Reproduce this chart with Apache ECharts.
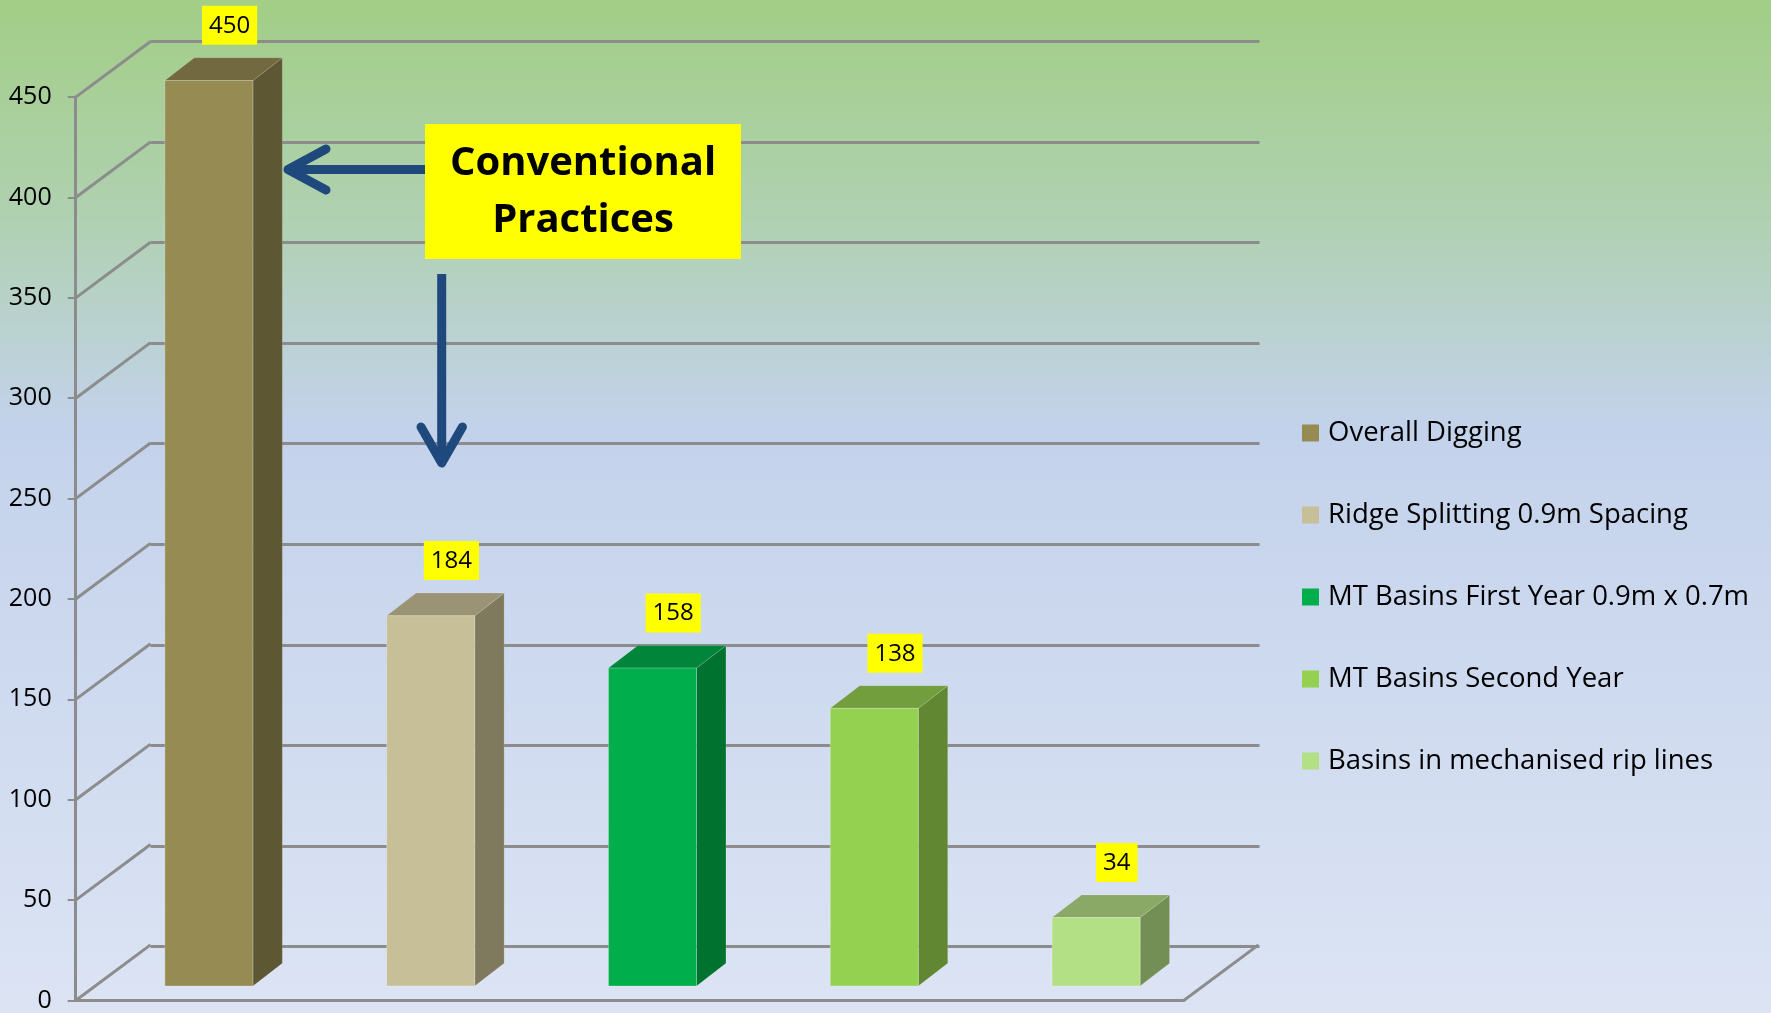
<!DOCTYPE html>
<html>
<head>
<meta charset="utf-8">
<script src="https://cdn.jsdelivr.net/npm/echarts@6/dist/echarts.min.js"></script>
<style>
html,body{margin:0;padding:0;}
#chart{width:1771px;height:1013px;}
</style>
</head>
<body>
<div id="chart"></div>
<script>
const categories = ['Overall Digging', 'Ridge Splitting 0.9m Spacing', 'MT Basins First Year 0.9m x 0.7m', 'MT Basins Second Year', 'Basins in mechanised rip lines'];
const values = [450, 184, 158, 138, 34];
const yTicks = [0, 50, 100, 150, 200, 250, 300, 350, 400, 450];
const frontColors = ['#968B52', '#C7BF98', '#00AE4B', '#95D150', '#B3DF85'];
const sideColors = ['#5E5733', '#7F7A5E', '#00722F', '#628733', '#748F55'];
const topColors = ['#726940', '#9A9374', '#00853A', '#729E3E', '#8AA966'];

const FONT = '"Open Sans", "Noto Sans", sans-serif';
const GRID_COLOR = '#8C8C8C';
const DX = 74.8, DY = -55.6;

const chart = echarts.init(document.getElementById('chart'), null, {renderer: 'canvas'});

const barSeries = categories.map((name, i) => ({
  type: 'custom',
  name: name,
  xAxisIndex: 2,
  yAxisIndex: 2,
  itemStyle: {color: frontColors[i]},
  data: [[i, values[i]]],
  z: 5,
  renderItem: function (params, api) {
    const idx = api.value(0);
    const v = api.value(1);
    const top = api.coord([idx, v]);
    const base = api.coord([idx, 0]);
    const band = api.size([1, 0])[0];
    const w = band * 0.397;
    const d = w * 0.334;
    const dy = -w * 0.257;
    const x0 = top[0] - w / 2, x1 = top[0] + w / 2;
    return {
      type: 'group',
      children: [
        {type: 'polygon', shape: {points: [[x1, top[1]], [x1 + d, top[1] + dy], [x1 + d, base[1] + dy], [x1, base[1]]]},
          style: {fill: sideColors[i], stroke: 'rgba(255,255,255,0.15)', lineWidth: 1}},
        {type: 'polygon', shape: {points: [[x0, top[1]], [x1, top[1]], [x1 + d, top[1] + dy], [x0 + d, top[1] + dy]]},
          style: {fill: topColors[i], stroke: 'rgba(255,255,255,0.15)', lineWidth: 1}},
        {type: 'rect', shape: {x: x0, y: top[1], width: w, height: base[1] - top[1]},
          style: {fill: frontColors[i], stroke: 'rgba(255,255,255,0.25)', lineWidth: 1}},
        {type: 'text', x: top[0] + d / 2 + 6, y: top[1] + dy - 13,
          style: {text: String(v), fill: '#000', font: '24px ' + FONT, align: 'center', verticalAlign: 'bottom',
            backgroundColor: '#FFFF00', padding: [8, 7, 7, 7]}}
      ]
    };
  }
}));

const option = {
  animation: false,
  backgroundColor: {
    type: 'linear', x: 0, y: 0, x2: 0, y2: 1,
    colorStops: [
      {offset: 0, color: '#A2CE86'},
      {offset: 0.22, color: '#B0D1B2'},
      {offset: 0.42, color: '#C3D2EB'},
      {offset: 1, color: '#DCE4F4'}
    ]
  },
  grid: [
    {left: 75.7, top: 97.1, width: 1108, height: 905},
    {left: 75.7 + DX, top: 97.1 + DY, width: 1109, height: 905},
    {left: 98, top: 80.5, width: 1109, height: 905.5}
  ],
  xAxis: [
    {type: 'value', gridIndex: 0, min: 0, max: 1, axisLine: {show: true, lineStyle: {color: GRID_COLOR, width: 3}},
      axisTick: {show: false}, axisLabel: {show: false}, splitLine: {show: false}},
    {type: 'value', gridIndex: 1, min: 0, max: 1, show: false},
    {type: 'category', gridIndex: 2, data: categories, show: false}
  ],
  yAxis: [
    {type: 'value', gridIndex: 0, min: 0, max: 450, interval: 50,
      axisLine: {show: true, lineStyle: {color: GRID_COLOR, width: 3}},
      axisTick: {show: true, length: 8, lineStyle: {color: GRID_COLOR, width: 2}},
      axisLabel: {color: '#000', fontSize: 25, fontFamily: FONT, margin: 24},
      splitLine: {show: false}},
    {type: 'value', gridIndex: 1, min: 0, max: 450, interval: 50,
      axisLine: {show: false}, axisTick: {show: false}, axisLabel: {show: false},
      splitLine: {show: true, lineStyle: {color: GRID_COLOR, width: 3}}},
    {type: 'value', gridIndex: 2, min: 0, max: 450, interval: 50, show: false}
  ],
  legend: {
    orient: 'vertical', left: 1302, top: 419, itemWidth: 17, itemHeight: 17, itemGap: 54,
    icon: 'rect', selectedMode: false, padding: 0,
    textStyle: {color: '#000', fontSize: 27.5, fontFamily: FONT, padding: [0, 0, 0, 4]},
    data: categories
  },
  series: [
    {
      type: 'custom',
      xAxisIndex: 0,
      yAxisIndex: 0,
      silent: true,
      z: 2,
      data: yTicks.map(v => [0, v]),
      renderItem: function (params, api) {
        const v = api.value(1);
        const p = api.coord([0, v]);
        const children = [{type: 'line', shape: {x1: p[0], y1: p[1], x2: p[0] + DX, y2: p[1] + DY},
          style: {stroke: GRID_COLOR, lineWidth: 3}}];
        if (v === 0) {
          const q = api.coord([1, 0]);
          children.push({type: 'line', shape: {x1: q[0], y1: q[1], x2: q[0] + DX, y2: q[1] + DY},
            style: {stroke: GRID_COLOR, lineWidth: 3}});
        }
        return {type: 'group', children: children};
      }
    }
  ].concat(barSeries),
  graphic: [
    {type: 'rect', shape: {x: 425, y: 124, width: 316, height: 135}, style: {fill: '#FFFF00'}, z: 20},
    {type: 'text', x: 583, y: 192, z: 21,
      style: {text: 'Conventional\nPractices', fill: '#000', font: 'bold 40px ' + FONT, align: 'center',
        verticalAlign: 'middle', lineHeight: 57}},
    {type: 'polyline', z: 20, shape: {points: [[425, 169.5], [292, 169.5]]},
      style: {stroke: '#1F497D', lineWidth: 9, fill: null}},
    {type: 'polyline', z: 20, shape: {points: [[326, 149], [288, 169.5], [326, 190]]},
      style: {stroke: '#1F497D', lineWidth: 9, fill: null, lineCap: 'round', lineJoin: 'round'}},
    {type: 'polyline', z: 20, shape: {points: [[441.7, 274], [441.7, 458]]},
      style: {stroke: '#1F497D', lineWidth: 9, fill: null}},
    {type: 'polyline', z: 20, shape: {points: [[421, 427], [441.7, 463], [462.4, 427]]},
      style: {stroke: '#1F497D', lineWidth: 9, fill: null, lineCap: 'round', lineJoin: 'round'}}
  ]
};
chart.setOption(option);
</script>
</body>
</html>
